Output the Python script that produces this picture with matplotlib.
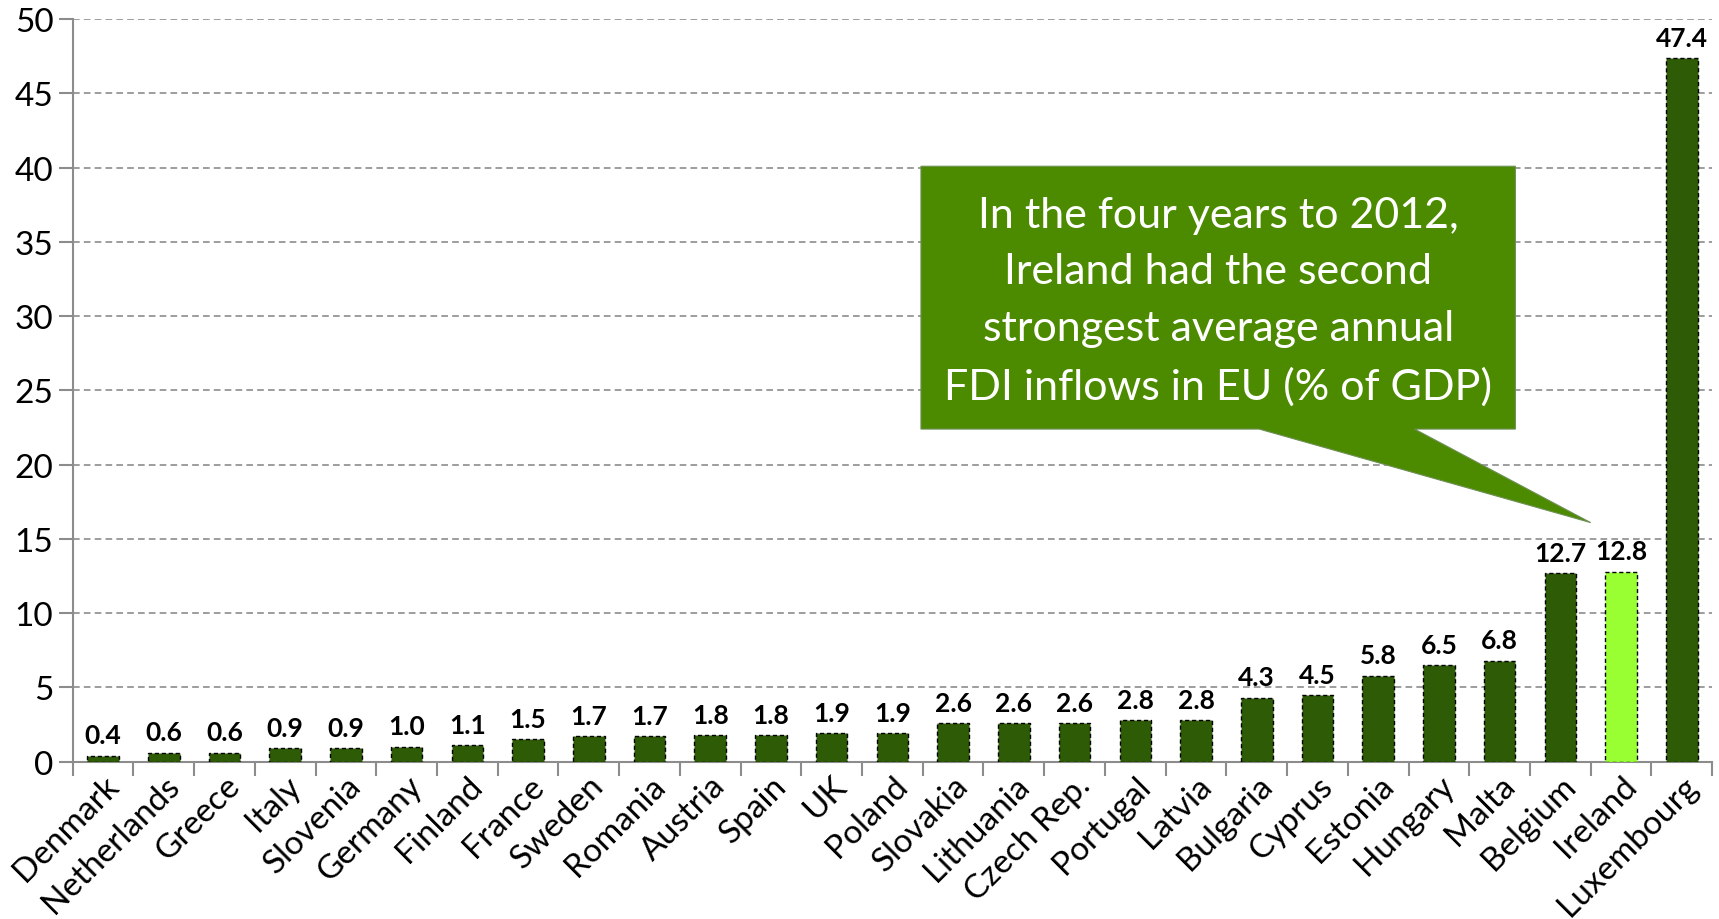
import matplotlib
matplotlib.use("Agg")
import matplotlib.pyplot as plt
from matplotlib.patches import Polygon

countries = ["Denmark", "Netherlands", "Greece", "Italy", "Slovenia", "Germany",
             "Finland", "France", "Sweden", "Romania", "Austria", "Spain", "UK",
             "Poland", "Slovakia", "Lithuania", "Czech Rep.", "Portugal", "Latvia",
             "Bulgaria", "Cyprus", "Estonia", "Hungary", "Malta", "Belgium",
             "Ireland", "Luxembourg"]
fdi_pct_gdp = [0.4, 0.6, 0.6, 0.9, 0.9, 1.0, 1.1, 1.5, 1.7, 1.7, 1.8, 1.8, 1.9,
               1.9, 2.6, 2.6, 2.6, 2.8, 2.8, 4.3, 4.5, 5.8, 6.5, 6.8, 12.7,
               12.8, 47.4]
highlight = "Ireland"
callout_text = ("In the four years to 2012,\nIreland had the second\n"
                "strongest average annual\nFDI inflows in EU (% of GDP)")

plt.rcParams["font.family"] = ["Lato", "DejaVu Sans"]

DARK = "#2E5B06"
LIGHT = "#99FF33"
GRID = "#8C8C8C"

fig = plt.figure(figsize=(17.19, 9.20), dpi=100)
ax = fig.add_axes([0.0423, 0.171, 0.9537, 0.807])

x = list(range(len(countries)))
colors = [LIGHT if c == highlight else DARK for c in countries]
bars = ax.bar(x, fdi_pct_gdp, width=0.52, color=colors, edgecolor="black",
              linestyle=(0, (3, 2)), linewidth=1.0, zorder=3)

for xi, v in zip(x, fdi_pct_gdp):
    ax.annotate(f"{v:.1f}", (xi, v), xytext=(0, 6), textcoords="offset points",
                ha="center", va="bottom", fontsize=19, fontweight="bold",
                color="black", zorder=4)

ax.set_xlim(-0.5, len(countries) - 0.5)
ax.set_ylim(0, 50)
ax.set_yticks(range(0, 51, 5))
ax.yaxis.grid(True, color=GRID, linestyle=(0, (4, 2.5)), linewidth=1.2, zorder=0)
ax.set_axisbelow(True)

ax.set_xticks([i - 0.5 for i in range(len(countries) + 1)], minor=False)
ax.set_xticklabels([])
ax.set_xticks(x, minor=True)
ax.set_xticklabels(countries, minor=True, rotation=45, ha="right",
                   rotation_mode="anchor", fontsize=24)
ax.tick_params(axis="x", which="major", direction="out", length=10,
               color=GRID, width=1.5)
ax.tick_params(axis="x", which="minor", length=0, pad=6)
ax.tick_params(axis="y", direction="out", length=10, color=GRID, width=1.5,
               labelsize=24, pad=4)

for side in ("top", "right"):
    ax.spines[side].set_visible(False)
for side in ("left", "bottom"):
    ax.spines[side].set_color(GRID)
    ax.spines[side].set_linewidth(1.5)

# speech-bubble callout pointing at Ireland
box_l, box_r, box_b, box_t = 13.47, 23.26, 22.4, 40.1
tail = [(19.04, box_b), (24.5, 16.1), (21.6, box_b)]
bubble = [(box_l, box_b), tail[0], tail[1], tail[2], (box_r, box_b),
          (box_r, box_t), (box_l, box_t)]
ax.add_patch(Polygon(bubble, closed=True, facecolor="#4C8B00",
                     edgecolor="#6E8F55", linewidth=0.8, zorder=5))
ax.text((box_l + box_r) / 2, (box_b + box_t) / 2 - 0.2, callout_text,
        ha="center", va="center", fontsize=31, color="white",
        linespacing=1.6, zorder=6)

fig.savefig("out.png", dpi=100, facecolor="white")
